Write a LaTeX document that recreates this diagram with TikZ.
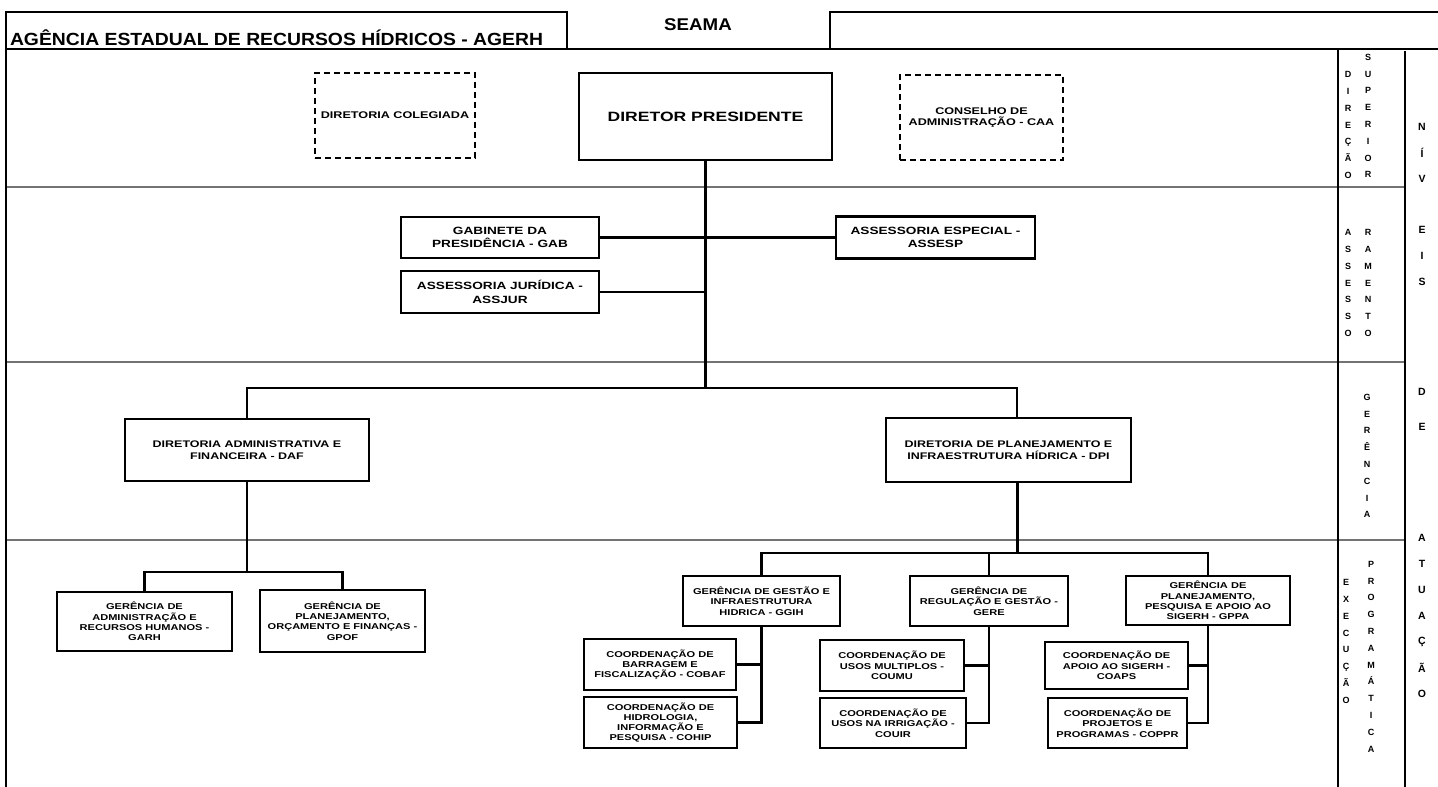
\documentclass[tikz,border=0pt]{standalone}
\usepackage{fontspec}
\setmainfont{Liberation Sans}
\newfontfamily\orgfont[FakeStretch=1.3]{Liberation Sans}
\newfontfamily\headfont[FakeStretch=1.1]{Liberation Sans}

\begin{document}
\begin{tikzpicture}[x=1pt,y=-1pt,
  every node/.style={inner sep=0pt, outer sep=0pt, align=center},
  unit/.style={draw, line width=2.6pt, font=\orgfont\bfseries\fontsize{8.5}{10.3}\selectfont},
  council/.style={draw, line width=1.1pt, dash pattern=on 6pt off 4pt,
    font=\orgfont\bfseries\fontsize{9.7}{11.7}\selectfont},
  staff/.style={unit, font=\orgfont\bfseries\fontsize{10.5}{13.3}\selectfont},
  board/.style={unit, font=\orgfont\bfseries\fontsize{9.6}{12.5}\selectfont},
  link/.style={line width=2.2pt},
  frame/.style={line width=1.8pt},
  band/.style={line width=1.4pt, black!55},
  colword/.style={font=\bfseries\fontsize{9}{16.8}\selectfont},
  lvlletter/.style={font=\bfseries\fontsize{10.5}{12}\selectfont}]
\useasboundingbox (0,0) rectangle (1438,787);

% bands of the levels
\foreach \y in {187,362,540}
  \draw[band] (6,\y) -- (1405,\y);

% frame and header
\draw[frame] (6,787) -- (6,12) -- (567,12) -- (567,49);
\draw[frame] (830,49) -- (830,12) -- (1438,12);
\draw[frame] (6,49) -- (1438,49);
\draw[frame] (1338,49) -- (1338,787);
\draw[frame] (1405,51) -- (1405,787);
\node[anchor=base west, font=\headfont\bfseries\fontsize{17.6}{20}\selectfont] (agerh) at (10,45)
  {AGÊNCIA ESTADUAL DE RECURSOS HÍDRICOS - AGERH};
\node[anchor=base, font=\headfont\bfseries\fontsize{17}{20}\selectfont] (seama) at (698,30) {SEAMA};

% direcao superior
\node[council, minimum width=160, minimum height=85] (coleg) at (395,115.5) {DIRETORIA COLEGIADA};
\node[unit, minimum width=253, minimum height=87, font=\orgfont\bfseries\fontsize{13.5}{16}\selectfont]
  (pres) at (705.5,116.5) {DIRETOR PRESIDENTE};
\node[council, minimum width=163, minimum height=85] (caa) at (981.5,117.5) {CONSELHO DE\\ADMINISTRAÇÃO - CAA};

% assessoramento
\node[staff, minimum width=198, minimum height=41] (gab) at (500,237.5) {GABINETE DA\\PRESIDÊNCIA - GAB};
\node[staff, minimum width=198, minimum height=42] (assjur) at (500,292) {ASSESSORIA JURÍDICA -\\ASSJUR};
\node[staff, minimum width=199, minimum height=42] (assesp) at (935.5,237.5) {ASSESSORIA ESPECIAL -\\ASSESP};

% gerencia
\node[board, minimum width=244, minimum height=62] (daf) at (247,450) {DIRETORIA ADMINISTRATIVA E\\FINANCEIRA - DAF};
\node[board, minimum width=245, minimum height=64] (dpi) at (1008.5,450) {DIRETORIA DE PLANEJAMENTO E\\INFRAESTRUTURA HÍDRICA - DPI};

% execucao programatica
\node[unit, minimum width=175, minimum height=59] (garh) at (144.5,621.5) {GERÊNCIA DE\\ADMINISTRAÇÃO E\\RECURSOS HUMANOS -\\GARH};
\node[unit, minimum width=165, minimum height=62] (gpof) at (342.5,621) {GERÊNCIA DE\\PLANEJAMENTO,\\ORÇAMENTO E FINANÇAS -\\GPOF};
\node[unit, minimum width=157, minimum height=50] (ggih) at (761.5,601) {GERÊNCIA DE GESTÃO E\\INFRAESTRUTURA\\HIDRICA - GGIH};
\node[unit, minimum width=158, minimum height=50] (gere) at (989,601) {GERÊNCIA DE\\REGULAÇÃO E GESTÃO -\\GERE};
\node[unit, minimum width=164, minimum height=49] (gppa) at (1208,600.5) {GERÊNCIA DE\\PLANEJAMENTO,\\PESQUISA E APOIO AO\\SIGERH - GPPA};
\node[unit, minimum width=152, minimum height=51] (cobaf) at (660,664.5) {COORDENAÇÃO DE\\BARRAGEM E\\FISCALIZAÇÃO - COBAF};
\node[unit, minimum width=153, minimum height=51] (cohip) at (660.5,722.5) {COORDENAÇÃO DE\\HIDROLOGIA,\\INFORMAÇÃO E\\PESQUISA - COHIP};
\node[unit, minimum width=144, minimum height=51] (coumu) at (892,665.5) {COORDENAÇÃO DE\\USOS MULTIPLOS -\\COUMU};
\node[unit, minimum width=146, minimum height=50] (couir) at (893,723) {COORDENAÇÃO DE\\USOS NA IRRIGAÇÃO -\\COUIR};
\node[unit, minimum width=143, minimum height=47] (coaps) at (1116.5,665.5) {COORDENAÇÃO DE\\APOIO AO SIGERH -\\COAPS};
\node[unit, minimum width=139, minimum height=50] (coppr) at (1117.5,723) {COORDENAÇÃO DE\\PROJETOS E\\PROGRAMAS - COPPR};

% links
\draw[link] (pres.south) -- ++(0,228) coordinate (fork);
\draw[link] (gab.east) -- (assesp.west);
\draw[link] (assjur.east) -- (assjur.east -| fork);
\draw[link] (daf.north) |- (fork) -| ([xshift=8.5pt]dpi.north);
\draw[link] (daf.south) -- ++(0,91) coordinate (dafsplit);
\draw[link] (garh.north) |- (dafsplit) -| (gpof.north);
\draw[link] ([xshift=9pt]dpi.south) -- ++(0,71) coordinate (dpisplit);
\draw[link] (ggih.north) |- (dpisplit) -| (gppa.north);
\draw[link] (gere.north) -- (gere.north |- dpisplit);
\draw[link] (ggih.south) |- (cohip.east);
\draw[link] (cobaf.east) -- (cobaf.east -| ggih.south);
\draw[link] (gere.south) |- (couir.east);
\draw[link] (coumu.east) -- (coumu.east -| gere.south);
\draw[link] (gppa.south) |- (coppr.east);
\draw[link] (coaps.east) -- (coaps.east -| gppa.south);

% level columns
\node[colword] (dir) at (1348,125) {D\\I\\R\\E\\Ç\\Ã\\O};
\node[colword] (sup) at (1368,116) {S\\U\\P\\E\\R\\I\\O\\R};
\node[colword] (asse) at (1348,283) {A\\S\\S\\E\\S\\S\\O};
\node[colword] (rame) at (1368,283) {R\\A\\M\\E\\N\\T\\O};
\node[colword] (ger) at (1367,456) {G\\E\\R\\Ê\\N\\C\\I\\A};
\node[colword] (exe) at (1346,641.5) {E\\X\\E\\C\\U\\Ç\\Ã\\O};
\node[colword] (prog) at (1371,656.5) {P\\R\\O\\G\\R\\A\\M\\Á\\T\\I\\C\\A};
\foreach \l/\y [count=\i] in {N/127,Í/153,V/179,E/230,I/256,S/282,D/392,E/427,
    A/538,T/564,U/590,A/616,Ç/642,Ã/668,O/694}
  \node[lvlletter] (lvl\i) at (1422,\y) {\l};
\end{tikzpicture}
\end{document}
